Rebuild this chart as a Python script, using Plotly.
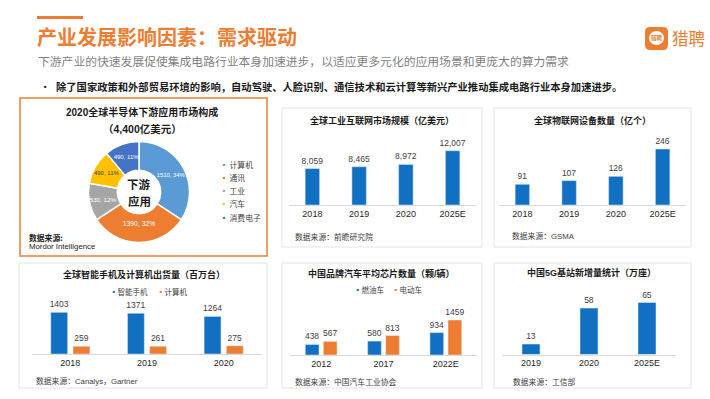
import plotly.graph_objects as go

W, H = 710, 399
def X(px): return px / W
def Y(py): return 1 - py / H

NUM = "Liberation Sans, Noto Sans CJK SC, sans-serif"
CJK = "Noto Sans CJK SC, Liberation Sans, sans-serif"
BLUE = "#1170C2"
ORANGE = "#ED7D31"
TXT = "#404040"
DARK = "#1A1A1A"

# ---------------- data ----------------
pie_labels = ["计算机", "通讯", "工业", "汽车", "消费电子"]
pie_values = [1510, 1390, 530, 490, 490]
pie_colors = ["#5B9BD5", "#ED7D31", "#A5A5A5", "#FFC000", "#4472C4"]

iiot_years = ["2018", "2019", "2020", "2025E"]
iiot_values = [8059, 8465, 8972, 12007]

iot_years = ["2018", "2019", "2020", "2025E"]
iot_values = [91, 107, 126, 246]

ship_years = ["2018", "2019", "2020"]
ship_phone = [1403, 1371, 1264]
ship_pc = [259, 261, 275]
ship_names = ["智能手机", "计算机"]

car_years = ["2012", "2017", "2022E"]
car_fuel = [438, 580, 934]
car_ev = [567, 813, 1459]
car_names = ["燃油车", "电动车"]

bs_years = ["2019", "2020", "2025E"]
bs_values = [13, 58, 65]

fig = go.Figure()

# ---------------- donut ----------------
total = sum(pie_values)
pie_text = [f"{v}, {v/total:.0%}" for v in pie_values]
cx, cy, r = 139, 192, 50.5
fig.add_trace(go.Pie(
    labels=pie_labels, values=pie_values, text=pie_text, textinfo="text",
    hole=0.43, sort=False, direction="clockwise", rotation=0,
    marker=dict(colors=pie_colors, line=dict(color="white", width=1.5)),
    insidetextorientation="horizontal", textposition="inside",
    insidetextfont=dict(family=NUM, size=6.8,
                        color=["white", "white", "white", "#404040", "white"]),
    domain=dict(x=[X(cx - r), X(cx + r)], y=[Y(cy + r), Y(cy - r)]),
    showlegend=False, hoverinfo="label+value+percent",
))

# ---------------- bar helpers ----------------
def bar_axes(n, x0, x1, base, height, ymax):
    ax = dict(domain=[X(x0), X(x1)], showline=True, linecolor="#D9D9D9", linewidth=1,
              ticks="", showgrid=False, zeroline=False, fixedrange=True,
              tickfont=dict(family=NUM, size=9, color="#262626"), type="category")
    ay = dict(domain=[Y(base), Y(base - height)], range=[0, ymax], visible=False,
              fixedrange=True, showgrid=False, zeroline=False)
    return ax, ay

def single_bar(xs, ys, xa, ya, fmt):
    return go.Bar(x=xs, y=ys, xaxis=xa, yaxis=ya, marker_color=BLUE, width=0.31,
                  text=[fmt(v) for v in ys], textposition="outside", cliponaxis=False,
                  constraintext="none", textfont=dict(family=NUM, size=8.5, color=TXT),
                  showlegend=False)

def pair_bar(xs, ys, color, offset, xa, ya):
    return go.Bar(x=xs, y=ys, xaxis=xa, yaxis=ya, marker_color=color, width=0.22,
                  offset=offset, text=[str(v) for v in ys], textposition="outside",
                  cliponaxis=False, constraintext="none",
                  textfont=dict(family=NUM, size=8.5, color=TXT), showlegend=False)

# panel 2: industrial internet
fig.add_trace(single_bar(iiot_years, iiot_values, "x", "y", lambda v: f"{v:,}"))
ax2, ay2 = bar_axes(4, 289, 476, 205, 70, 70 / (54.3 / 12007))
# panel 3: IoT devices
fig.add_trace(single_bar(iot_years, iot_values, "x2", "y2", str))
ax3, ay3 = bar_axes(4, 499, 686, 205, 70, 70 / (56 / 246))
# panel 4: shipments
fig.add_trace(pair_bar(ship_years, ship_phone, BLUE, -0.255, "x3", "y3"))
fig.add_trace(pair_bar(ship_years, ship_pc, ORANGE, 0.035, "x3", "y3"))
ax4, ay4 = bar_axes(3, 32, 262, 354, 56, 56 / (41.7 / 1403))
# panel 5: chips per car
fig.add_trace(pair_bar(car_years, car_fuel, BLUE, -0.255, "x4", "y4"))
fig.add_trace(pair_bar(car_years, car_ev, ORANGE, 0.035, "x4", "y4"))
ax5, ay5 = bar_axes(3, 290, 477, 355, 56, 56 / (35 / 1459))
# panel 6: 5G base stations
fig.add_trace(single_bar(bs_years, bs_values, "x5", "y5", str))
ax6, ay6 = bar_axes(3, 502, 676, 354.5, 56, 56 / (52 / 65))

ax2["anchor"], ay2["anchor"] = "y", "x"
ax3["anchor"], ay3["anchor"] = "y2", "x2"
ax4["anchor"], ay4["anchor"] = "y3", "x3"
ax5["anchor"], ay5["anchor"] = "y4", "x4"
ax6["anchor"], ay6["anchor"] = "y5", "x5"

# ---------------- shapes ----------------
shapes = []
def rect(x0, y0, x1, y1, line="#E3E3E3", width=1, fill=None):
    d = dict(type="rect", xref="paper", yref="paper", x0=X(x0), x1=X(x1), y0=Y(y1), y1=Y(y0),
             line=dict(color=line, width=width), layer="below")
    if fill:
        d["fillcolor"] = fill
    shapes.append(d)

rect(37, 16, 83, 19, line=ORANGE, width=0, fill=ORANGE)
rect(20, 98, 267, 256, line=ORANGE, width=1.5)
rect(282, 108, 482, 247)
rect(494, 108, 691, 247)
rect(19, 263, 267, 388)
rect(282, 263, 482, 388)
rect(494, 263, 691, 388)

# logo icon: rounded square
lx0, ly0, lx1, ly1, rr = 645, 27, 668, 50, 5
def P(px, py): return f"{X(px):.5f},{Y(py):.5f}"
path = (f"M{P(lx0+rr, ly0)} L{P(lx1-rr, ly0)} Q{P(lx1, ly0)} {P(lx1, ly0+rr)} "
        f"L{P(lx1, ly1-rr)} Q{P(lx1, ly1)} {P(lx1-rr, ly1)} L{P(lx0+rr, ly1)} "
        f"Q{P(lx0, ly1)} {P(lx0, ly1-rr)} L{P(lx0, ly0+rr)} Q{P(lx0, ly0)} {P(lx0+rr, ly0)} Z")
shapes.append(dict(type="path", xref="paper", yref="paper", path=path,
                   fillcolor=ORANGE, line=dict(width=0), layer="above"))
shapes.append(dict(type="circle", xref="paper", yref="paper", x0=X(649), x1=X(664),
                   y0=Y(45), y1=Y(31), fillcolor="white", line=dict(width=0), layer="above"))

# ---------------- annotations ----------------
anns = []
def ann(text, x, y, size, color=DARK, xanchor="left", family=CJK):
    anns.append(dict(text=text, x=X(x), y=Y(y), xref="paper", yref="paper",
                     xanchor=xanchor, yanchor="middle", showarrow=False,
                     font=dict(family=family, size=size, color=color)))

ann("<b>产业发展影响因素：需求驱动</b>", 35, 37, 20, ORANGE)
ann("下游产业的快速发展促使集成电路行业本身加速进步，以适应更多元化的应用场景和更庞大的算力需求",
    36, 60, 11.8, "#7F7F7F")
ann("•", 38, 86, 10.3, DARK)
ann("<b>除了国家政策和外部贸易环境的影响，自动驾驶、人脸识别、通信技术和云计算等新兴产业推动集成电路行业本身加速进步。</b>",
    54, 86, 10.3, DARK)
ann("<b>猎聘</b>", 656.5, 38.5, 5.5, ORANGE, "center")
ann("猎聘", 670, 38.5, 16.5, ORANGE)

# panel 1
ann("<b>2020全球半导体下游应用市场构成</b>", 142, 112, 10, DARK, "center", NUM)
ann("<b>（4,400亿美元）</b>", 142, 129, 10.5, DARK, "center", NUM)
ann("<b>下游</b>", cx, 183.5, 11.5, DARK, "center")
ann("<b>应用</b>", cx, 200.5, 11.5, DARK, "center")
for i, (lab, col) in enumerate(zip(pie_labels, pie_colors)):
    ann(f"<span style='color:{col}'>▪</span> {lab}", 218, 164 + i * 13.3, 7.8, TXT)
ann("<b>数据来源:</b>", 27, 237, 7.8, DARK)
ann("Mordor Intelligence", 27, 246, 7.8, DARK, family=NUM)

# panel titles
ann("<b>全球工业互联网市场规模（亿美元）</b>", 382, 121, 9, DARK, "center")
ann("<b>全球物联网设备数量（亿个）</b>", 592, 120, 9, DARK, "center")
ann("<b>全球智能手机及计算机出货量（百万台）</b>", 144, 274, 9, DARK, "center", NUM)
ann("<b>中国品牌汽车平均芯片数量（颗/辆）</b>", 382, 273, 9, DARK, "center", NUM)
ann("<b>中国5G基站新增量统计（万座）</b>", 591, 272, 9, DARK, "center", NUM)

# legends
ann(f"<span style='color:{BLUE}'>▪</span>{ship_names[0]}", 108, 291, 7.5, TXT)
ann(f"<span style='color:{ORANGE}'>▪</span>{ship_names[1]}", 155, 291, 7.5, TXT)
ann(f"<span style='color:{BLUE}'>▪</span>{car_names[0]}", 352, 289, 7.5, TXT)
ann(f"<span style='color:{ORANGE}'>▪</span>{car_names[1]}", 390, 289, 7.5, TXT)

# sources
ann("数据来源：前瞻研究院", 293, 236, 7.8, TXT)
ann("数据来源：GSMA", 510, 236, 7.8, TXT, family=NUM)
ann("数据来源：Canalys，Gartner", 34, 381, 7.8, TXT, family=NUM)
ann("数据来源：中国汽车工业协会", 293, 381, 7.8, TXT)
ann("数据来源：工信部", 511, 381, 7.8, TXT)

fig.update_layout(
    width=W, height=H, autosize=False,
    margin=dict(l=0, r=0, t=0, b=0, pad=0),
    paper_bgcolor="white", plot_bgcolor="rgba(0,0,0,0)",
    barmode="group", showlegend=False,
    font=dict(family=NUM, color=TXT),
    xaxis=ax2, yaxis=ay2, xaxis2=ax3, yaxis2=ay3, xaxis3=ax4, yaxis3=ay4,
    xaxis4=ax5, yaxis4=ay5, xaxis5=ax6, yaxis5=ay6,
    shapes=shapes, annotations=anns,
)

fig.write_html("out.html", config={"displayModeBar": False},
               post_script="document.body.style.margin='0px';")
